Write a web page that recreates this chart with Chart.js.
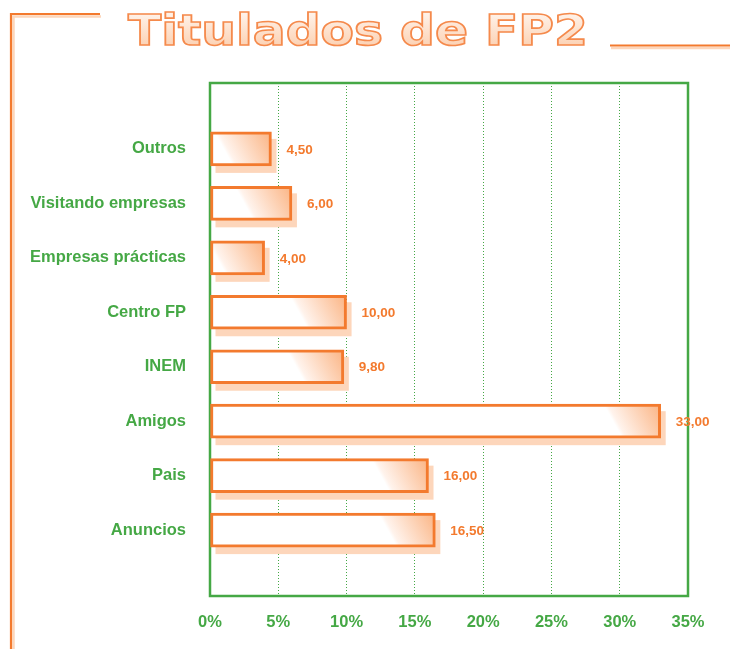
<!DOCTYPE html>
<html>
<head>
<meta charset="utf-8">
<script src="https://cdn.jsdelivr.net/npm/chart.js@4.4.1/dist/chart.umd.min.js"></script>
<style>
  html, body { margin: 0; padding: 0; background: #fff; }
  #wrap { width: 730px; height: 649px; position: relative; }
</style>
</head>
<body>
<div id="wrap"><canvas id="chart"></canvas></div>
<script>
const categories = ['Outros', 'Visitando empresas', 'Empresas prácticas', 'Centro FP', 'INEM', 'Amigos', 'Pais', 'Anuncios'];
const values = [4.5, 6, 4, 10, 9.8, 33, 16, 16.5];
const tickLabels = ['0%', '5%', '10%', '15%', '20%', '25%', '30%', '35%'];
const titleText = 'Titulados de FP2';

const GREEN = '#45a845';
const ORANGE = '#f37a2e';
const PEACH = '#fdd6bb';

Chart.defaults.font.family = '"Liberation Sans", Arial, sans-serif';

// shadows under the bars, green frame, value labels
const shadowAndFrame = {
  id: 'shadowAndFrame',
  beforeDatasetsDraw(chart) {
    const ctx = chart.ctx;
    const a = chart.chartArea;
    ctx.save();
    ctx.strokeStyle = GREEN;
    ctx.lineWidth = 2.5;
    ctx.strokeRect(a.left, a.top, a.right - a.left, a.bottom - a.top);
    ctx.fillStyle = PEACH;
    chart.getDatasetMeta(0).data.forEach(bar => {
      const h = bar.height;
      ctx.fillRect(bar.base + 5, bar.y - h / 2 + 7, bar.x - bar.base, h);
    });
    ctx.restore();
  },
  afterDatasetsDraw(chart) {
    const ctx = chart.ctx;
    ctx.save();
    ctx.fillStyle = ORANGE;
    ctx.font = 'bold 13.5px "Liberation Sans", Arial, sans-serif';
    ctx.textAlign = 'left';
    ctx.textBaseline = 'middle';
    chart.getDatasetMeta(0).data.forEach((bar, i) => {
      ctx.fillText(values[i].toFixed(2).replace('.', ','), bar.x + 15, bar.y + 1);
    });
    ctx.restore();
  }
};

// title and the orange corner lines
const decor = {
  id: 'decor',
  afterDraw(chart) {
    const ctx = chart.ctx;
    ctx.save();
    ctx.strokeStyle = PEACH;
    ctx.lineWidth = 2.5;
    ctx.beginPath();
    ctx.moveTo(101, 16.5); ctx.lineTo(13.5, 16.5); ctx.lineTo(13.5, 649);
    ctx.moveTo(611, 48); ctx.lineTo(730, 48);
    ctx.stroke();
    ctx.strokeStyle = ORANGE;
    ctx.lineWidth = 2.2;
    ctx.beginPath();
    ctx.moveTo(100, 14); ctx.lineTo(11, 14); ctx.lineTo(11, 649);
    ctx.moveTo(610, 45.5); ctx.lineTo(730, 45.5);
    ctx.stroke();

    ctx.font = 'bold 43px "DejaVu Sans", sans-serif';
    const w = ctx.measureText(titleText).width;
    const sx = 460 / w;
    ctx.translate(128, 45);
    ctx.scale(sx, 1);
    const g = ctx.createLinearGradient(0, -32, 0, 0);
    g.addColorStop(0, '#fff3ea');
    g.addColorStop(1, '#fcd3b6');
    ctx.fillStyle = g;
    ctx.textBaseline = 'alphabetic';
    ctx.fillText(titleText, 0, 0);
    ctx.strokeStyle = '#f58a4c';
    ctx.lineWidth = 1.6;
    ctx.strokeText(titleText, 0, 0);
    ctx.restore();
  }
};

new Chart(document.getElementById('chart'), {
  type: 'bar',
  data: {
    datasets: [{
      data: values.map((v, i) => ({ x: v, y: i })),
      barThickness: 34,
      borderWidth: 3,
      borderColor: ORANGE,
      borderSkipped: false,
      backgroundColor(c) {
        const chart = c.chart;
        if (!chart.chartArea) return '#fff';
        const end = chart.scales.x.getPixelForValue(values[c.dataIndex]);
        const yc = chart.scales.y.getPixelForValue(c.dataIndex);
        const g = chart.ctx.createLinearGradient(end - 40, yc + 14, end, yc - 8);
        g.addColorStop(0, '#ffffff');
        g.addColorStop(0.08, '#fff3ec');
        g.addColorStop(1, '#fbb98c');
        return g;
      }
    }]
  },
  options: {
    indexAxis: 'y',
    responsive: true,
    maintainAspectRatio: false,
    animation: false,
    layout: { padding: { top: 83, right: 42, left: 0, bottom: 0 } },
    plugins: {
      legend: { display: false },
      tooltip: { enabled: false }
    },
    scales: {
      x: {
        type: 'linear',
        min: 0,
        max: 35,
        afterFit(scale) { scale.height = 53; },
        ticks: {
          stepSize: 5,
          padding: 17,
          color: GREEN,
          font: { size: 16.5, weight: 'bold' },
          callback: (v, i) => tickLabels[i]
        },
        grid: { color: GREEN, lineWidth: 1, drawTicks: false },
        border: { display: false, dash: [1, 2] }
      },
      y: {
        type: 'linear',
        reverse: true,
        offset: false,
        min: -1.21,
        max: 8.21,
        afterFit(scale) { scale.width = 210; },
        afterBuildTicks(scale) { scale.ticks = categories.map((c, i) => ({ value: i })); },
        ticks: {
          padding: 24,
          color: GREEN,
          font: { size: 16.5, weight: 'bold' },
          callback: v => categories[v]
        },
        grid: { display: false, drawTicks: false },
        border: { display: false }
      }
    }
  },
  plugins: [shadowAndFrame, decor]
});
</script>
</body>
</html>
